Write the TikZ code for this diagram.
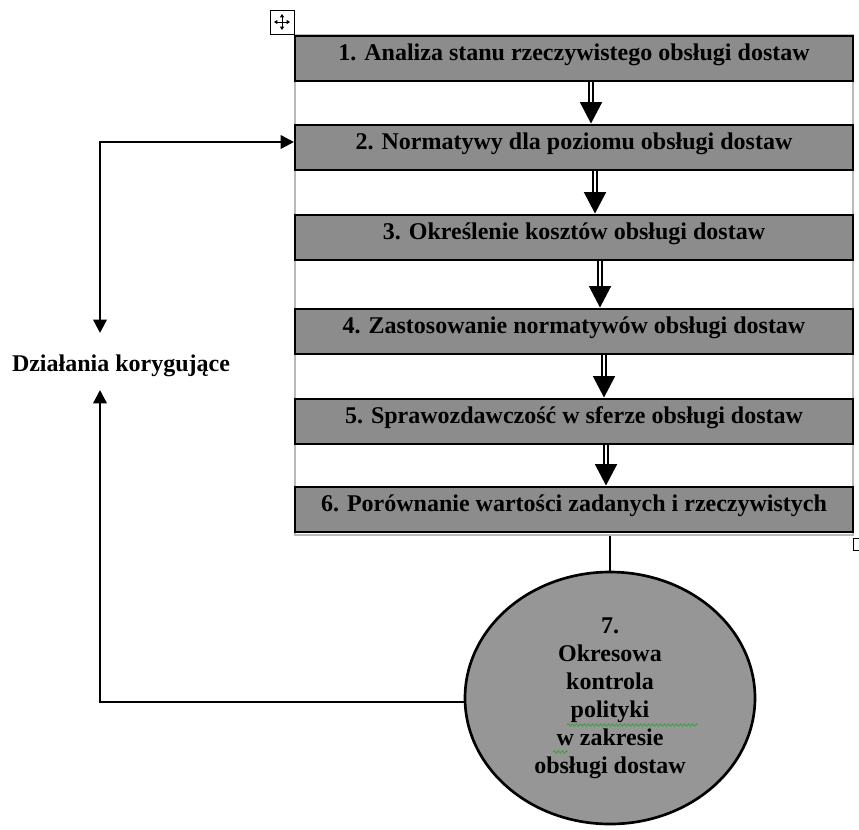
\documentclass[tikz,border=0pt]{standalone}
\usepackage{fontspec}
\setmainfont{Liberation Serif}
\usetikzlibrary{arrows.meta,shapes.geometric,calc,decorations.pathmorphing}
\definecolor{boxgray}{RGB}{140,140,140}
\definecolor{circgray}{RGB}{150,150,150}
\definecolor{framegray}{RGB}{185,185,185}
\definecolor{spellgreen}{RGB}{60,160,60}
\begin{document}
\begin{tikzpicture}[x=0.75pt,y=-0.75pt,
  txt/.style={font=\fontsize{18}{21}\selectfont\bfseries},
  stepbox/.style={txt,draw=black,line width=1.5pt,fill=boxgray,minimum width=418.5pt,minimum height=33.75pt,inner sep=0pt,text height=13pt,text depth=9pt},
  dblarrow/.style={draw=black,line width=1.1pt,double=white,double distance=1.6pt,-{Triangle[width=16.5pt,length=16pt]}},
  conn/.style={draw=black,line width=1.8pt},
  spell/.style={spellgreen,line width=0.6pt,decorate,decoration={snake,amplitude=0.9pt,segment length=3pt}}
]
\useasboundingbox (0,0) rectangle (859,829);
% table frame
\draw[framegray,line width=0.8pt] (295,35) rectangle (853,535);
% table handles
\draw[line width=0.6pt,fill=white] (270,10) rectangle (294,34);
\draw[line width=0.7pt,{Triangle[width=3pt,length=2.5pt]}-{Triangle[width=3pt,length=2.5pt]}] (274,22) -- (290,22);
\draw[line width=0.7pt,{Triangle[width=3pt,length=2.5pt]}-{Triangle[width=3pt,length=2.5pt]}] (282,14) -- (282,30);
\draw[line width=0.6pt] (853,538) rectangle (862,550);
% boxes
\node[stepbox] (b1) at (574,58)  {1. Analiza stanu rzeczywistego obsługi dostaw};
\node[stepbox] (b2) at (574,147) {2. Normatywy dla poziomu obsługi dostaw};
\node[stepbox] (b3) at (574,237) {3. Określenie kosztów obsługi dostaw};
\node[stepbox] (b4) at (574,331) {4. Zastosowanie normatywów obsługi dostaw};
\node[stepbox] (b5) at (574,421) {5. Sprawozdawczość w sferze obsługi dostaw};
\node[stepbox] (b6) at (574,509) {6. Porównanie wartości zadanych i rzeczywistych};
% arrows between boxes
\draw[dblarrow] ($(b1.south)+(17,0)$) -- ($(b2.north)+(17,0)$);
\draw[dblarrow] ($(b2.south)+(21,0)$) -- ($(b3.north)+(21,0)$);
\draw[dblarrow] ($(b3.south)+(26,0)$) -- ($(b4.north)+(26,0)$);
\draw[dblarrow] ($(b4.south)+(30,0)$) -- ($(b5.north)+(30,0)$);
\draw[dblarrow] ($(b5.south)+(32,0)$) -- ($(b6.north)+(32,0)$);
% circle
\node[txt,ellipse,draw=black,line width=2pt,fill=circgray,minimum width=217.5pt,minimum height=189pt,inner sep=0pt,align=center] (c7) at (610,698)
  {7.\\Okresowa\\kontrola\\polityki\\w zakresie\\obsługi dostaw};
\draw[spell] (567,725) -- (698,725);
\draw[spell] (553,752) -- (568,752);
\draw[conn] (c7.north |- 0,536) -- (c7.north);
% corrective actions loop
\node[txt,inner sep=0pt] (dz) at (121,366) {Działania korygujące};
\coordinate (tl) at (100,142);
\coordinate (dzt) at (100,333);
\coordinate (dzb) at (100,390);
\coordinate (bl) at (100,702);
\draw[conn,{Triangle[width=10pt,length=10pt]}-{Triangle[width=10pt,length=10pt]}] (dzt) -- (tl) -- (b2.west |- tl);
\draw[conn,-{Triangle[width=10pt,length=10pt]}] (c7.west |- bl) -- (bl) -- (dzb);
\end{tikzpicture}
\end{document}
